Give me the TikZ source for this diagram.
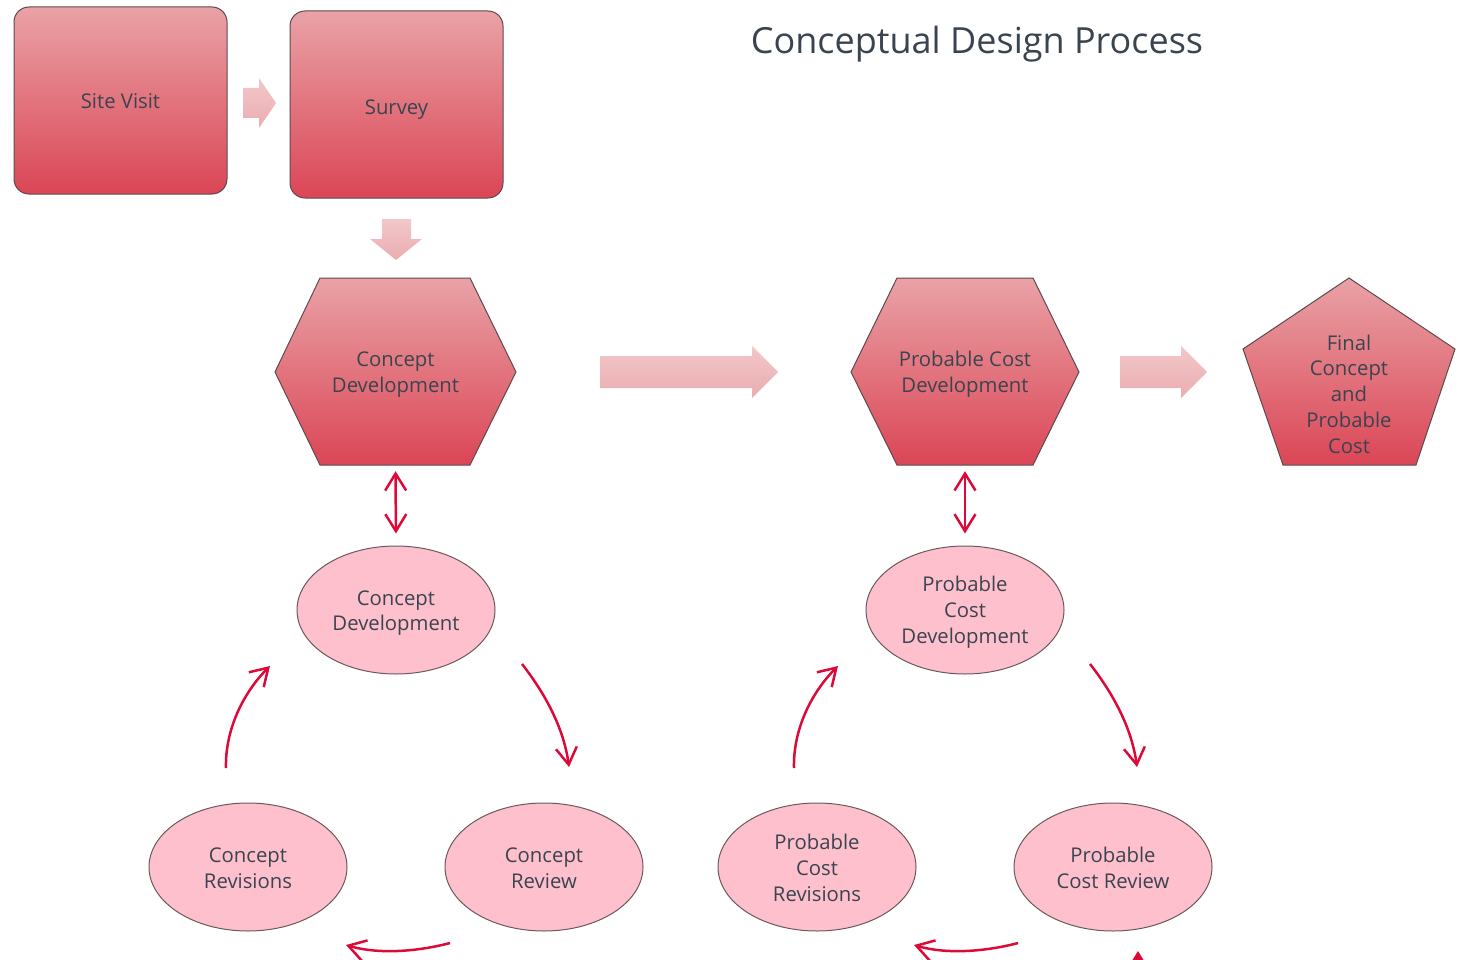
\documentclass[tikz,border=0pt]{standalone}
\usepackage{fontspec}
\setmainfont{Open Sans}
\usetikzlibrary{arrows.meta,shapes.geometric}

\definecolor{boxtop}{HTML}{E9A2A6}
\definecolor{boxbot}{HTML}{DB4656}
\definecolor{boxline}{HTML}{5E4A4E}
\definecolor{ovalfill}{HTML}{FEC0CC}
\definecolor{ovalline}{HTML}{6A5A5E}
\definecolor{ink}{HTML}{3A4450}
\definecolor{cyc}{HTML}{DD0A39}
\definecolor{fattop}{HTML}{F3C7C9}
\definecolor{fatbot}{HTML}{EAADB1}

\tikzset{
  lbl/.style={font=\fontsize{20.3}{25.8}\selectfont, text=ink, align=center},
  stepbox/.style={draw=boxline, line width=1pt, rounded corners=15pt,
    top color=boxtop, bottom color=boxbot, minimum width=213pt, minimum height=187pt},
  shapebody/.style={draw=boxline, line width=1pt, top color=boxtop, bottom color=boxbot},
  shapelabel/.style={lbl, inner sep=0pt},
  ovalbody/.style={ellipse, draw=ovalline, line width=1pt, fill=ovalfill,
    minimum width=198pt, minimum height=128pt, inner sep=0pt},
  fat/.style={top color=fattop, bottom color=fatbot, draw=none},
  link/.style={draw=cyc, line width=2.5pt,
    -{Straight Barb[length=17pt, width=21pt, line width=2.5pt]}},
  twoway/.style={draw=cyc, line width=2.5pt,
    {Straight Barb[length=17pt, width=21pt, line width=2.5pt]}-{Straight Barb[length=17pt, width=21pt, line width=2.5pt]}},
}

\begin{document}
\begin{tikzpicture}[x=1pt, y=-1pt]
\useasboundingbox (0,0) rectangle (1463,960);

% title
\node[font=\fontsize{36}{44}\selectfont, text=ink] (title) at (977,44) {Conceptual Design Process};

% first two steps (labels set a little low, as the font sits high)
\node[stepbox] (site) at (120.5,100.5) {};
\node[shapelabel] (siteT) at (120.5,101) {Site Visit};
\node[stepbox] (survey) at (396.5,104.5) {};
\node[shapelabel] (surveyT) at (396.5,110) {Survey};

% block arrows between the steps
\path[fat] (243,88) -- (259,88) -- (259,78) -- (276,103) -- (259,128) -- (259,118) -- (243,118) -- cycle;
\path[fat] (382,219) -- (411,219) -- (411,239) -- (422,239) -- (396,260) -- (370,239) -- (382,239) -- cycle;

% hexagon: concept development
\path[shapebody] (320,278) -- (470,278) -- (516,372) -- (470,465) -- (320,465) -- (275,372) -- cycle;
\node[minimum width=241pt, minimum height=187pt] (hexA) at (395.5,371.5) {};
\node[shapelabel] at (395.5,374.5) {Concept\\Development};

% hexagon: probable cost development
\path[shapebody] (897,278) -- (1033,278) -- (1079,372) -- (1033,465) -- (897,465) -- (851,372) -- cycle;
\node[minimum width=228pt, minimum height=187pt] (hexB) at (965,371.5) {};
\node[shapelabel] at (965,374.5) {Probable Cost\\Development};

% pentagon: final result
\path[shapebody] (1349,278) -- (1455,349) -- (1416,465) -- (1283,465) -- (1243,349) -- cycle;
\node[shapelabel] (pent) at (1349,394) {Final\\Concept\\and\\Probable\\Cost};

% block arrows along the main row
\path[fat] (600,356) -- (752,356) -- (752,346) -- (778,372) -- (752,398) -- (752,388) -- (600,388) -- cycle;
\path[fat] (1120,356) -- (1181,356) -- (1181,346) -- (1207,372) -- (1181,398) -- (1181,388) -- (1120,388) -- cycle;

% concept cycle
\node[ovalbody] (cdA) at (396,610) {};
\node[shapelabel] at (396,613) {Concept\\Development};
\node[ovalbody] (crev) at (248,867) {};
\node[shapelabel] at (248,868) {Concept\\Revisions};
\node[ovalbody] (creview) at (544,867) {};
\node[shapelabel] at (544,868) {Concept\\Review};

% cost cycle
\node[ovalbody] (cdB) at (965,610) {};
\node[shapelabel] at (965,612) {Probable\\Cost\\Development};
\node[ovalbody] (prev) at (817,867) {};
\node[shapelabel] at (817,868) {Probable\\Cost\\Revisions};
\node[ovalbody] (preview) at (1113,867) {};
\node[shapelabel] at (1113,868) {Probable\\Cost Review};

% two-way links between hexagons and cycles
\draw[twoway, shorten <=6pt, shorten >=12pt] (hexA.south) -- (cdA.north);
\draw[twoway, shorten <=6pt, shorten >=12pt] (hexB.south) -- (cdB.north);

% cycle arcs, concept side
\coordinate (a1s) at (226,768);  \coordinate (a1e) at (270,666);
\coordinate (a2s) at (522,664);  \coordinate (a2e) at (569,767);
\coordinate (a3s) at (450,943);  \coordinate (a3e) at (346,945);
\draw[link] (a1s) .. controls (225,730) and (243,693) .. (a1e);
\draw[link] (a2s) .. controls (547,696) and (564,730) .. (a2e);
\draw[link] (a3s) .. controls (420,951) and (380,955) .. (a3e);

% cycle arcs, cost side
\coordinate (b1s) at (794,768);  \coordinate (b1e) at (838,666);
\coordinate (b2s) at (1090,664); \coordinate (b2e) at (1137,767);
\coordinate (b3s) at (1018,943); \coordinate (b3e) at (914,945);
\draw[link] (b1s) .. controls (793,730) and (811,693) .. (b1e);
\draw[link] (b2s) .. controls (1115,696) and (1132,730) .. (b2e);
\draw[link] (b3s) .. controls (988,951) and (948,955) .. (b3e);

% arrow tip entering from below
\fill[cyc] (1138,951) -- (1146,964) -- (1130,964) -- cycle;
\end{tikzpicture}
\end{document}
